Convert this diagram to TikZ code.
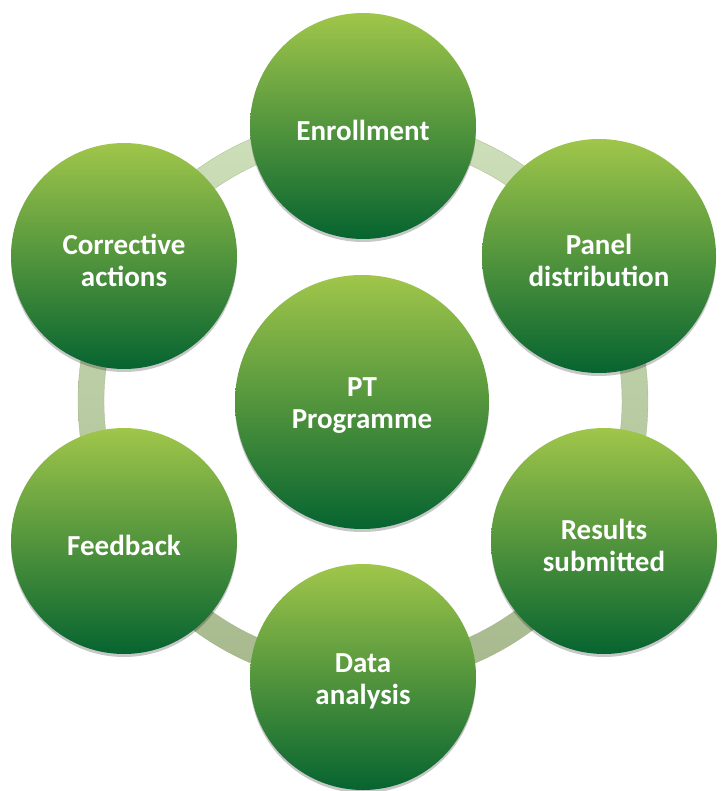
\documentclass[tikz,border=0pt]{standalone}
\usepackage{fontspec}
\setmainfont{Carlito}
\usetikzlibrary{shadows}
\definecolor{gtop}{RGB}{160,198,74}
\definecolor{gbot}{RGB}{6,100,48}
\definecolor{ringtop}{RGB}{206,224,186}
\definecolor{ringbot}{RGB}{166,184,140}
\definecolor{ringedge}{RGB}{150,168,126}
\begin{document}
\begin{tikzpicture}[x=1pt,y=-1pt,
  bubble/.style={circle, inner sep=0pt, minimum size=226pt,
    top color=gtop, bottom color=gbot,
    drop shadow={shadow xshift=0pt, shadow yshift=-3pt, opacity=0.22, fill=black}},
  txt/.style={text=white, font=\fontsize{29}{32}\selectfont\bfseries,
    align=center, inner sep=0pt, yshift=-4pt},
  ringstyle/.style={even odd rule, top color=ringtop, bottom color=ringbot}]
\useasboundingbox (0,0) rectangle (720,791);
\fill[white] (0,0) rectangle (720,791);
\coordinate (c) at (363,401);
\path[ringstyle] (c) circle (285) (c) circle (259);
\draw[ringedge, line width=0.4pt, opacity=0.6] (c) circle (285) (c) circle (259);
\node[bubble, label={[txt]center:Enrollment}] (enr) at (363,126) {};
\node[bubble, minimum size=234pt, label={[txt]center:{Panel\\distribution}}] (pan) at (599,256) {};
\node[bubble, label={[txt]center:{Results\\submitted}}] (res) at (604,541) {};
\node[bubble, label={[txt]center:{Data\\analysis}}] (dat) at (363,677) {};
\node[bubble, label={[txt]center:Feedback}] (fee) at (124,541) {};
\node[bubble, label={[txt]center:{Corrective\\actions}}] (cor) at (124,256) {};
\node[bubble, minimum size=254pt, label={[txt]center:{PT\\Programme}}] (pt) at (362,402) {};
\end{tikzpicture}
\end{document}
